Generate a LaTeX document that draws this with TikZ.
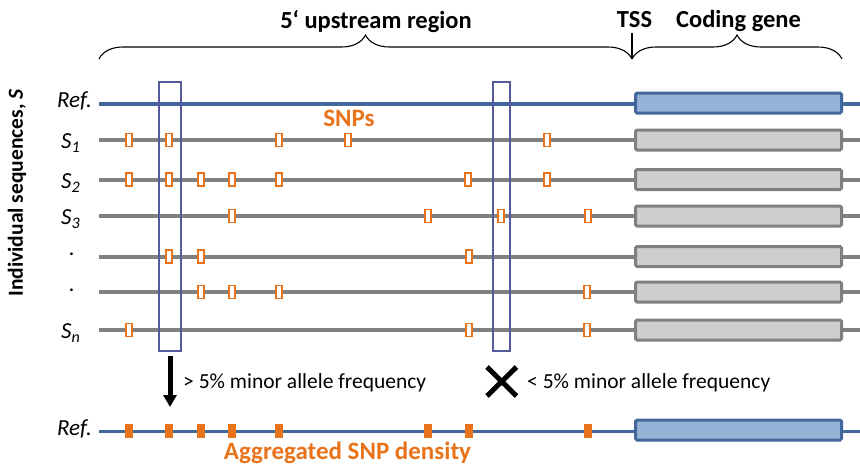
\documentclass[tikz,border=0pt]{standalone}
\usepackage{fontspec}
\setmainfont{Carlito}
\usetikzlibrary{arrows.meta,decorations.pathreplacing}

\definecolor{refblue}{HTML}{41679B}
\definecolor{genefill}{HTML}{95B3D7}
\definecolor{seqgray}{HTML}{808080}
\definecolor{boxgray}{HTML}{CDCFCE}
\definecolor{snporange}{HTML}{E8731A}
\definecolor{selblue}{HTML}{555A9C}

\tikzset{
  refline/.style={refblue,line width=4pt},
  seqline/.style={seqgray,line width=4pt},
  refgene/.style={draw=refblue,fill=genefill,line width=3pt,rounded corners=1.5pt,
    minimum width=206pt,minimum height=20pt,inner sep=0pt},
  seqgene/.style={draw=seqgray,fill=boxgray,line width=3pt,rounded corners=1.5pt,
    minimum width=206pt,minimum height=20pt,inner sep=0pt},
  snp/.style={draw=snporange,fill=white,line width=1.6pt,minimum width=6pt,
    minimum height=13pt,inner sep=0pt},
  snpfull/.style={fill=snporange,minimum width=8pt,minimum height=14pt,inner sep=0pt},
  selbox/.style={draw=selblue,line width=1.1pt,inner sep=0pt},
  lab/.style={font=\fontsize{23}{27}\selectfont\itshape,inner sep=0pt},
  head/.style={font=\fontsize{24.5}{29}\selectfont\bfseries,inner sep=0pt},
  side/.style={font=\fontsize{21.5}{26}\selectfont\bfseries,inner sep=0pt},
  note/.style={font=\fontsize{21.5}{26}\selectfont,inner sep=0pt},
  snplab/.style={font=\fontsize{25}{30}\selectfont\bfseries,text=snporange,inner sep=0pt},
  regbrace/.style={decorate,decoration={brace,amplitude=24pt},line width=1.1pt},
  keeparrow/.style={line width=5pt,-{Triangle[width=13pt,length=12pt]}},
}

\begin{document}
\begin{tikzpicture}[x=1pt,y=-1pt,>=Latex]
  \useasboundingbox (0,0) rectangle (860,467);

  % reference sequence
  \draw[refline] (99,103.5) -- (860,103.5);
  \node[refgene] (generef) at (738.5,103) {};

  % individual sequences with their SNPs
  \foreach \y/\snps [count=\i] in {140/{129,169,279,348,547},
      179.5/{129,169,201,232,279,468,547},216/{232,428,501,588},
      256.5/{169,201,469},292/{201,232,279,587},330/{129,469,587}}{
    \draw[seqline] (99,\y) -- (860,\y);
    \node[seqgene] (gene\i) at (738.5,\y) {};
    \foreach \x in \snps
      \node[snp] (snp\i-\x) at (\x,\y) {};
  }

  % selection windows
  \node[selbox,minimum width=22pt,minimum height=269pt] (selL) at (170,216.5) {};
  \node[selbox,minimum width=17pt,minimum height=269pt] (selR) at (501.5,216.5) {};

  % aggregated reference
  \draw[refblue,line width=3pt] (99,431) -- (860,431);
  \node[refgene] (geneagg) at (738.5,430) {};
  \foreach \x in {129,169,201,232,279,428,469,588}
    \node[snpfull] (agg\x) at (\x,431) {};

  % braces and headings
  \draw[regbrace] (99,59) -- (632,59);
  \draw[regbrace] (632,59) -- (842,59);
  \draw[line width=1.1pt] (632,33) -- (632,59);
  \node[head,anchor=base] (upstream) at (376,28) {5‘ upstream region};
  \node[head,anchor=base] (tss) at (634.5,27) {TSS};
  \node[head,anchor=base] (coding) at (738.5,27) {Coding gene};

  % row labels
  \node[side,rotate=90] (indiv) at (17,193) {Individual sequences, \textit{S}};
  \node[lab,anchor=east] (labref) at (92,101) {Ref.};
  \foreach \y/\lab in {143/1,183/2,219/3,333/n}
    \node[lab,anchor=west] (labS\lab) at (61,\y) {S\textsubscript{\lab}};
  \node[lab] (dotA) at (72,254) {.};
  \node[lab] (dotB) at (72,290) {.};
  \node[lab,anchor=east] (labagg) at (92,429) {Ref.};

  \node[snplab,anchor=base] (snps) at (349,126) {SNPs};
  \node[snplab,anchor=base] (density) at (347.5,459) {Aggregated SNP density};

  % filtering
  \coordinate (arrowtop) at (170,356);
  \coordinate (arrowend) at (170,407);
  \draw[keeparrow] (arrowtop) -- (arrowend);
  \node[note,anchor=base west] (keep) at (183,388) {> 5\% minor allele frequency};
  \draw[line width=5pt] (487,367) -- (516.5,396) (487,396) -- (516.5,367);
  \node[note,anchor=base west] (drop) at (527,388) {< 5\% minor allele frequency};
\end{tikzpicture}
\end{document}
